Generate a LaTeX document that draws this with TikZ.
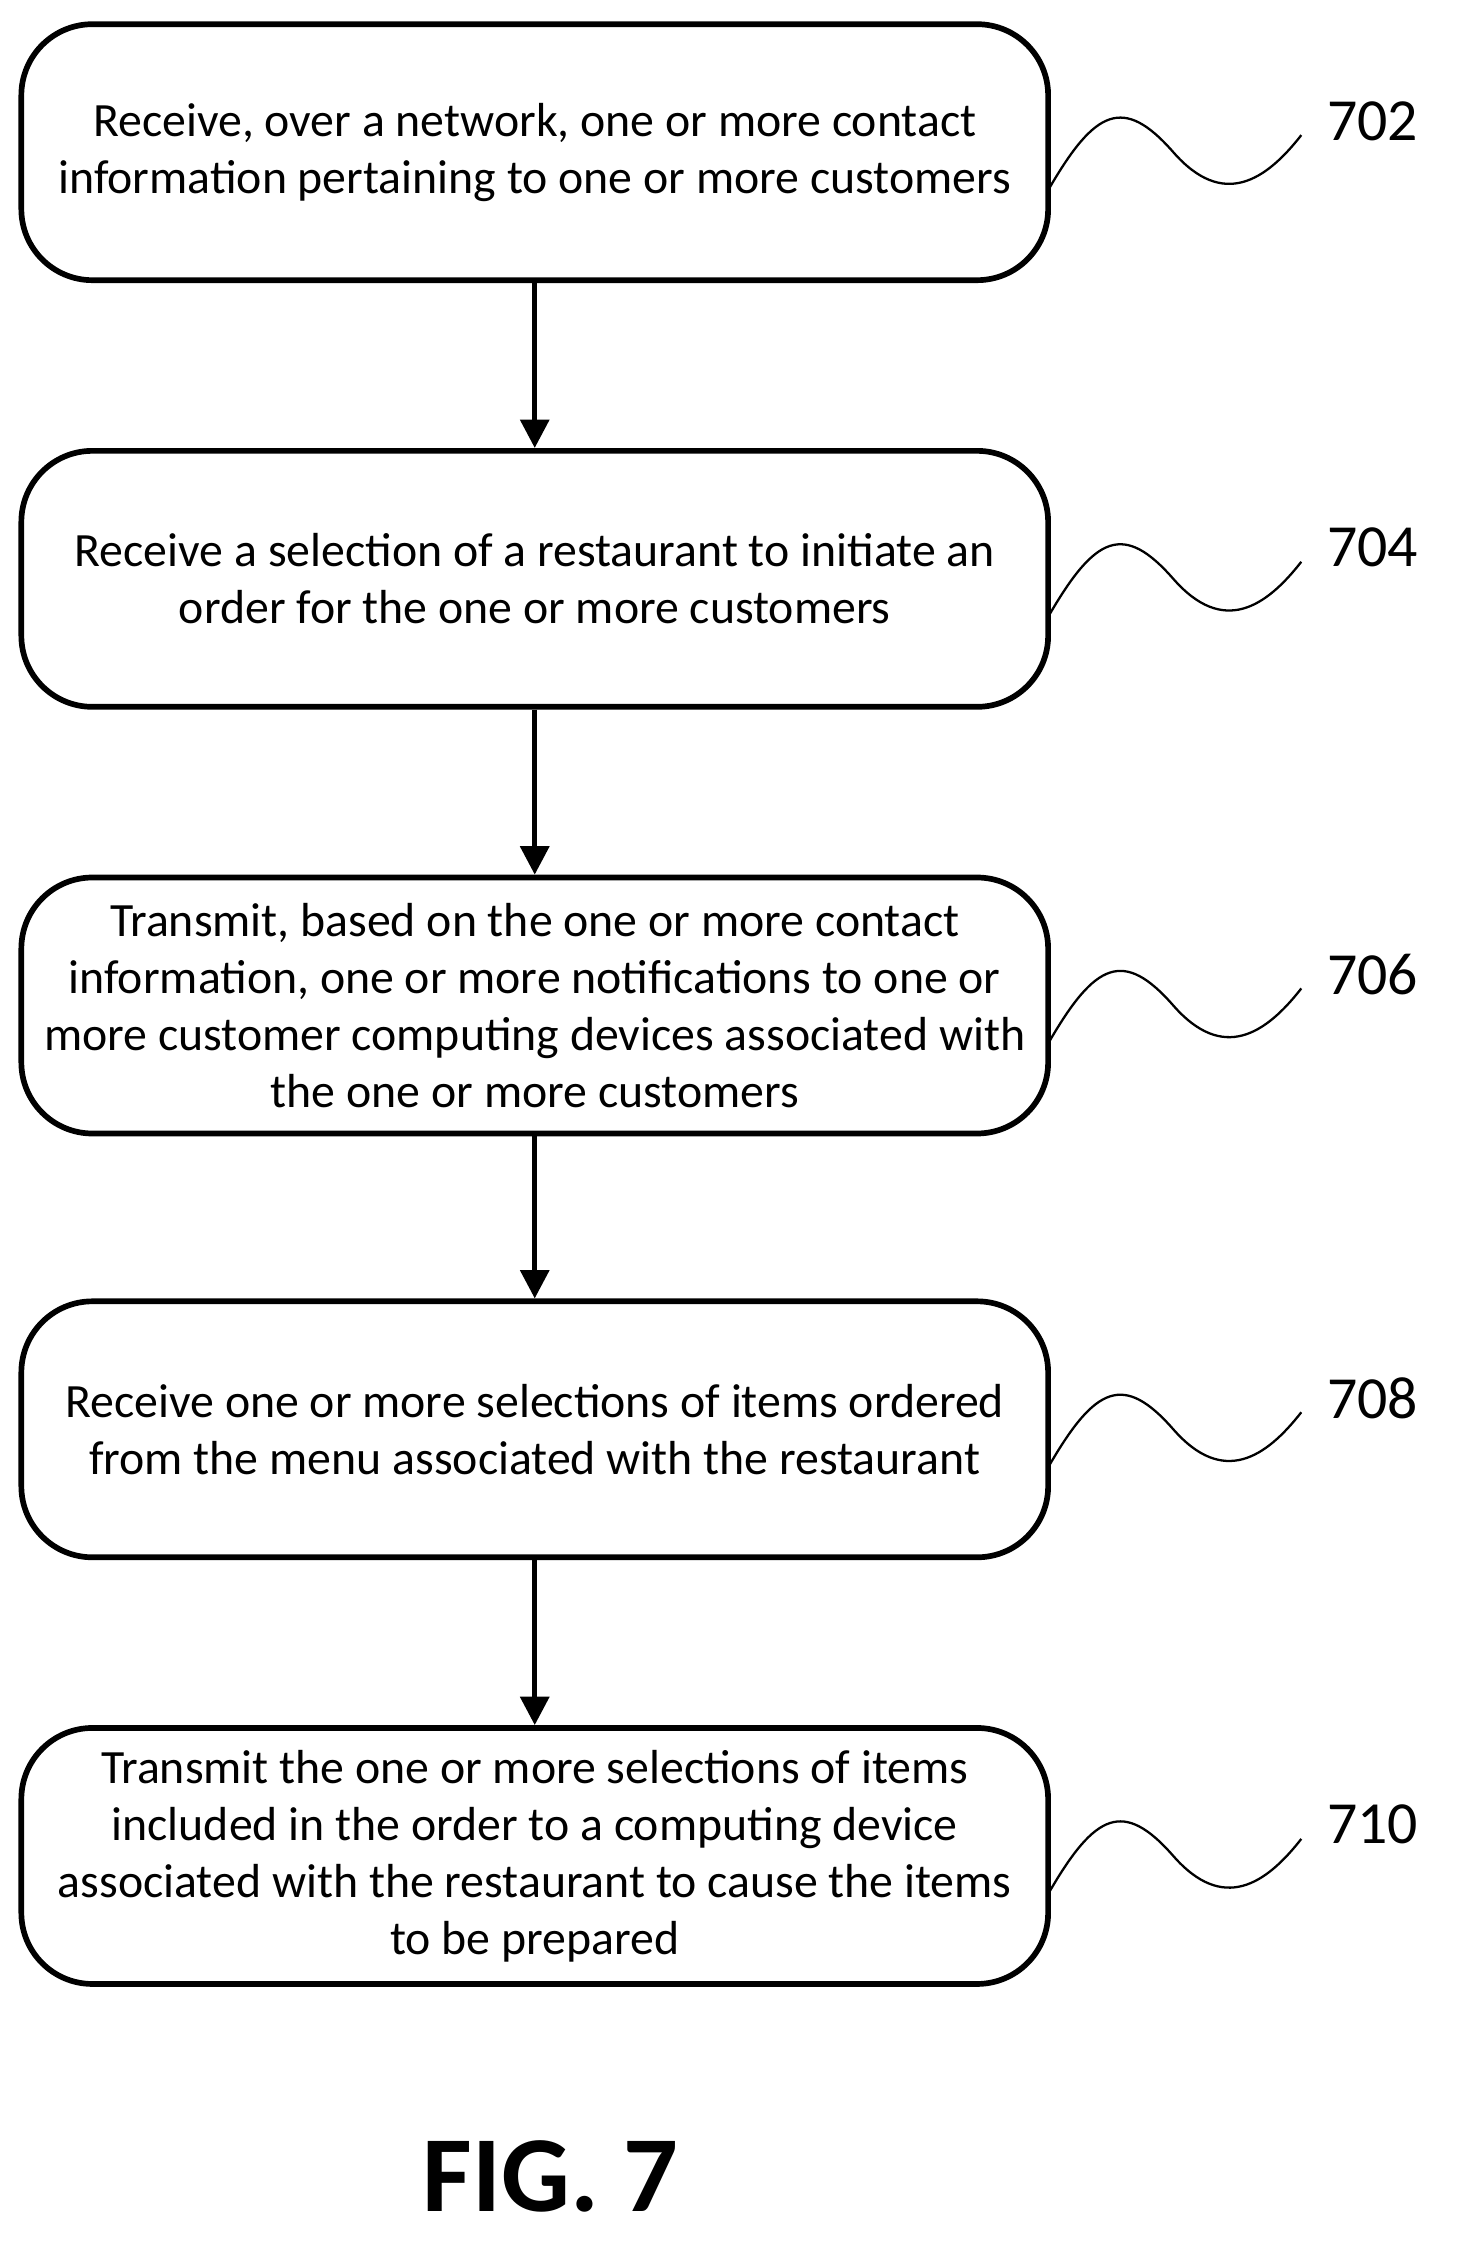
\documentclass[tikz,border=0pt]{standalone}
\usepackage{fontspec}
\setmainfont{Carlito}
\usetikzlibrary{arrows.meta}
\begin{document}
\begin{tikzpicture}[x=0.5pt,y=-0.5pt,
  box/.style={draw,line width=2pt,rounded corners=25pt,minimum width=361pt,minimum height=90pt,align=center,font=\fontsize{16.8}{20}\selectfont,inner sep=2pt},
  arr/.style={line width=1.8pt,-{Triangle[length=10pt,width=10pt]}},
  wave/.style={line width=0.8pt},
  lab/.style={font=\fontsize{21}{24}\selectfont}]
\useasboundingbox (0,0) rectangle (1024,1587);
\node[box] (b1) at (376,107) {Receive, over a network, one or more contact\\information pertaining to one or more customers};
\node[box] (b2) at (376,407) {Receive a selection of a restaurant to initiate an\\order for the one or more customers};
\node[box] (b3) at (376,707) {Transmit, based on the one or more contact\\information, one or more notifications to one or\\more customer computing devices associated with\\the one or more customers};
\node[box] (b4) at (376,1005) {Receive one or more selections of items ordered\\from the menu associated with the restaurant};
\node[box] (b5) at (376,1305) {Transmit the one or more selections of items\\included in the order to a computing device\\associated with the restaurant to cause the items\\to be prepared};
\foreach \a/\b in {b1/b2,b2/b3,b3/b4,b4/b5} \draw[arr] (\a.south) -- (\b.north);
\foreach \n/\y/\t in {b1/107/702,b2/407/704,b3/707/706,b4/1005/708,b5/1305/710}{
  \coordinate (w\n) at (738,\y+25);
  \draw[wave] (w\n) .. controls (770,\y-30) and (790,\y-40) .. (825,\y) .. controls (860,\y+40) and (890,\y+20) .. (915,\y-12);
  \node[lab] (l\n) at (965,\y-22) {\t};
}
\node[font=\bfseries\fontsize{38}{40}\selectfont] (fig) at (387,1530) {FIG. 7};
\end{tikzpicture}
\end{document}
